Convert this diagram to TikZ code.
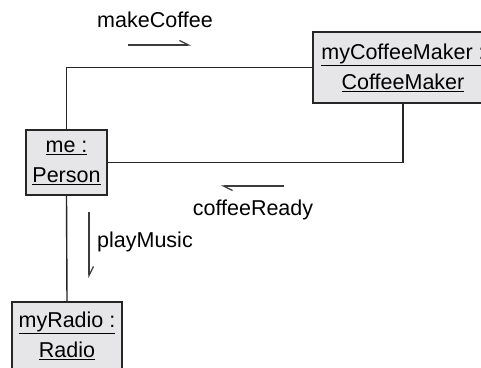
\documentclass[tikz,border=0pt]{standalone}
\usepackage{fontspec}
\setmainfont{Liberation Sans}
\usetikzlibrary{arrows.meta, positioning}
\definecolor{grisoscuro}{HTML}{262626}
\definecolor{grisclaro}{HTML}{E6E6E8}
\colorlet{colLinea}{grisoscuro}
\colorlet{colCaja}{grisclaro}
\colorlet{colFlecha}{grisoscuro!90!white}
\tikzset{
  cajaObjeto/.style={
    draw=colLinea, line width=1.4pt, fill=colCaja,
    align=center, inner sep=0pt,
    font=\fontsize{21.5}{30}\selectfont, text=black
  },
  enlace/.style={draw=colLinea, line width=1.4pt},
  flechaMensaje/.style={-{Straight Barb[left, length=9pt, width=9pt]},
    line width=1.2pt, colFlecha},
  etiquetaMensaje/.style={font=\fontsize{21.5}{24}\selectfont, text=black,
    inner sep=0pt},
}

\begin{document}
\begin{tikzpicture}[x=1pt, y=-1pt]
    \useasboundingbox (0,0) rectangle (481,367);
    \clip (0,0) rectangle (481,367);
    % objetos
    \node[cajaObjeto, minimum width=180pt, minimum height=71pt] (cafetera) at (403,67.5)
      {\underline{myCoffeeMaker :}\\\underline{CoffeeMaker}};
    \node[cajaObjeto, minimum width=81pt, minimum height=65pt] (yo) at (66.5,162.5)
      {\underline{me :}\\\underline{Person}};
    \node[cajaObjeto, minimum width=110pt, minimum height=68pt] (radio) at (67,336)
      {\underline{myRadio :}\\\underline{Radio}};
    % enlaces
    \draw[enlace] (yo.north) |- (cafetera.west);
    \draw[enlace] (yo.east) -| (cafetera.south);
    \draw[enlace] (yo.south) -- (radio.north);
    % mensajes
    \coordinate (hacerIni) at (128,45);
    \coordinate (hacerFin) at (191,45);
    \coordinate (listoIni) at (284,186);
    \coordinate (listoFin) at (221,186);
    \coordinate (musicaIni) at (89,212);
    \coordinate (musicaFin) at (89,278);
    \draw[flechaMensaje] (hacerIni) -- (hacerFin);
    \draw[flechaMensaje] (listoIni) -- (listoFin);
    \draw[flechaMensaje] (musicaIni) -- (musicaFin);
    \node[etiquetaMensaje, anchor=base] (hacerCafe) at (155,27) {makeCoffee};
    \node[etiquetaMensaje, anchor=base] (cafeListo) at (253,215) {coffeeReady};
    \node[etiquetaMensaje, anchor=base west] (tocarMusica) at (97,247) {playMusic};
  \end{tikzpicture}
\end{document}
